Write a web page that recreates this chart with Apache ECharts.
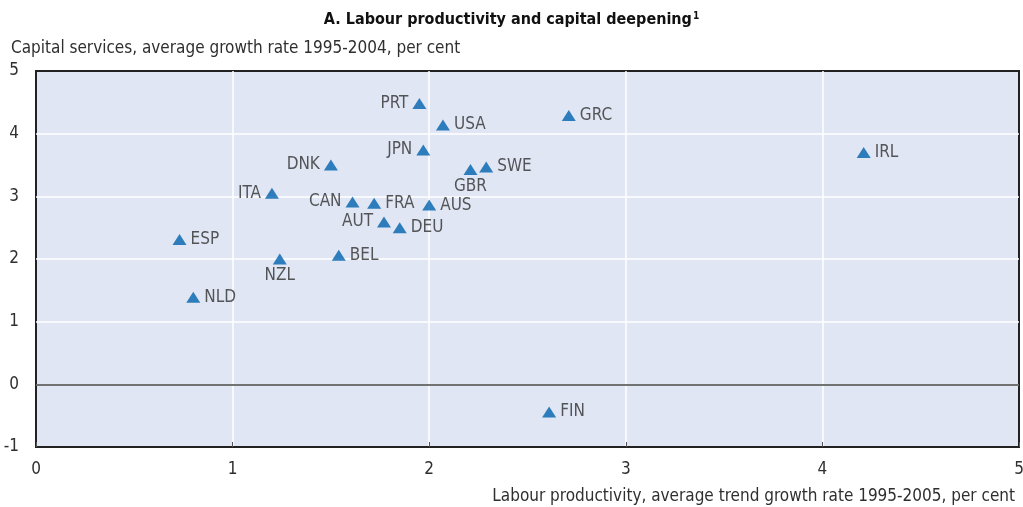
<!DOCTYPE html>
<html>
<head>
<meta charset="utf-8">
<script src="https://cdn.jsdelivr.net/npm/echarts@6/dist/echarts.min.js"></script>
<style>
  html, body { margin: 0; padding: 0; background: #fff; }
  #chart { width: 1023px; height: 507px; }
</style>
</head>
<body>
<div id="chart"></div>
<script>
// country codes and values
const countries = ['PRT', 'USA', 'GRC', 'IRL', 'JPN', 'DNK', 'GBR', 'SWE', 'ITA', 'CAN',
                   'FRA', 'AUS', 'AUT', 'DEU', 'ESP', 'NZL', 'BEL', 'NLD', 'FIN'];
// labour productivity, trend growth 1995-2005
const labourProd = [1.95, 2.07, 2.71, 4.21, 1.97, 1.50, 2.21, 2.29, 1.20, 1.61,
                    1.72, 2.00, 1.77, 1.85, 0.73, 1.24, 1.54, 0.80, 2.61];
// capital services growth 1995-2004
const capServices = [4.48, 4.14, 4.29, 3.70, 3.74, 3.50, 3.43, 3.47, 3.05, 2.91,
                     2.89, 2.86, 2.59, 2.50, 2.31, 2.00, 2.06, 1.39, -0.44];
const xTicks = [0, 1, 2, 3, 4, 5];
const yTicks = [-1, 0, 1, 2, 3, 4, 5];

// where each label sits relative to its marker
const labelSide = {
  PRT: 'left', JPN: 'left', DNK: 'left', ITA: 'left', CAN: 'left', AUT: 'left',
  GBR: 'bottom', NZL: 'bottom'
};

const FONT = "'Liberation Sans Narrow', 'DejaVu Sans Condensed', 'Roboto Condensed', sans-serif";
const TXT = '#2f2f2f';

var myChart = echarts.init(document.getElementById('chart'));

const points = countries.map((c, i) => {
  const side = labelSide[c] || 'right';
  return {
    name: c,
    value: [labourProd[i], capServices[i]],
    label: { position: side, distance: side === 'bottom' ? 3 : 4 }
  };
});

myChart.setOption({
  animation: false,
  textStyle: { fontFamily: FONT },
  title: [
    {
      text: '{t|A. Labour productivity and capital deepening}{s|1}',
      left: 'center',
      top: 6,
      textStyle: {
        rich: {
          t: { fontFamily: FONT, fontSize: 16, fontWeight: 'bold', color: '#111' },
          s: { fontFamily: FONT, fontSize: 10, color: '#111', verticalAlign: 'top', padding: [0, 0, 8, 1] }
        }
      }
    },
    {
      text: 'Capital services, average growth rate 1995-2004, per cent',
      left: 6,
      top: 35,
      textStyle: { fontFamily: FONT, fontSize: 17, fontWeight: 'normal', color: TXT }
    },
    {
      text: 'Labour productivity, average trend growth rate 1995-2005, per cent',
      right: 3,
      top: 483,
      textStyle: { fontFamily: FONT, fontSize: 17, fontWeight: 'normal', color: TXT }
    }
  ],
  grid: {
    left: 36, right: 4, top: 71, bottom: 60,
    outerBoundsMode: 'none',
    containLabel: false,
    show: true,
    backgroundColor: '#e0e6f3',
    borderColor: '#222222',
    borderWidth: 2
  },
  xAxis: {
    type: 'value',
    min: xTicks[0],
    max: xTicks[xTicks.length - 1],
    interval: 1,
    axisLine: { show: true, onZero: false, lineStyle: { color: '#222', width: 2 } },
    axisTick: { show: true, inside: true, length: 5, lineStyle: { color: '#555' } },
    axisLabel: { margin: 14, fontSize: 17, color: TXT, fontFamily: FONT },
    splitLine: { show: true, showMinLine: false, showMaxLine: false, lineStyle: { color: '#ffffff', width: 1.5 } }
  },
  yAxis: {
    type: 'value',
    min: yTicks[0],
    max: yTicks[yTicks.length - 1],
    interval: 1,
    axisLine: { show: false },
    axisTick: { show: false },
    axisLabel: { margin: 17, fontSize: 17, color: TXT, fontFamily: FONT },
    splitLine: { show: true, showMinLine: false, showMaxLine: false, lineStyle: { color: '#ffffff', width: 1.5 } }
  },
  series: [
    {
      type: 'scatter',
      symbol: 'triangle',
      symbolSize: [14, 11],
      itemStyle: { color: '#0062ad' },
      label: {
        show: true,
        formatter: '{b}',
        fontFamily: FONT,
        fontSize: 17,
        color: TXT
      },
      data: points,
      markLine: {
        silent: true,
        symbol: 'none',
        label: { show: false },
        lineStyle: { color: '#444', width: 1.5, type: 'solid' },
        data: [{ yAxis: 0 }]
      },
      z: 5
    }
  ]
});
</script>
</body>
</html>
